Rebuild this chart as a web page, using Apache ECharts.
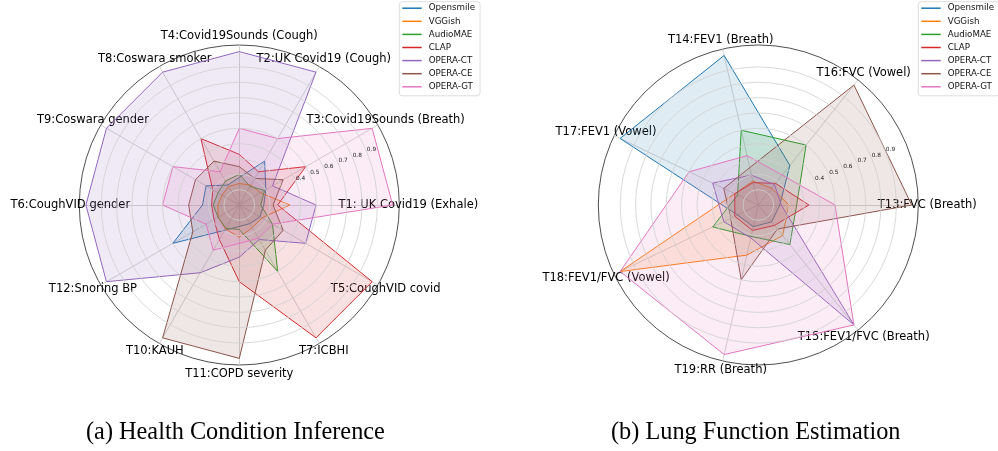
<!DOCTYPE html>
<html><head><meta charset="utf-8">
<script src="https://cdn.jsdelivr.net/npm/echarts@6/dist/echarts.min.js"></script>
<style>html,body{margin:0;padding:0;background:#fff}#c{width:998px;height:451px}</style>
</head><body><div id="c"></div>
<script>
const models = ['Opensmile','VGGish','AudioMAE','CLAP','OPERA-CT','OPERA-CE','OPERA-GT'];
const colors = ['#1f77b4','#ff7f0e','#2ca02c','#d62728','#9467bd','#8c564b','#e377c2'];

// (a) Health condition inference — axis order counter-clockwise from east
const healthTasks = ['T1: UK Covid19 (Exhale)','T3:Covid19Sounds (Breath)','T2:UK Covid19 (Cough)','T4:Covid19Sounds (Cough)','T8:Coswara smoker','T9:Coswara gender','T6:CoughVID gender','T12:Snoring BP','T10:KAUH','T11:COPD severity','T7:ICBHI','T5:CoughVID covid'];
const healthOpensmile = [0.16,0.20,0.33,0.18,0.15,0.25,0.24,0.50,0.19,0.14,0.14,0.155];
const healthVGGish    = [0.33,0.16,0.15,0.14,0.14,0.13,0.14,0.16,0.18,0.21,0.17,0.17];
const healthAudioMAE  = [0.14,0.19,0.14,0.20,0.18,0.16,0.17,0.16,0.175,0.16,0.50,0.25];
const healthCLAP      = [0.25,0.50,0.25,0.33,0.50,0.20,0.18,0.19,0.26,0.50,1.00,1.00];
const healthOperaCT   = [0.50,0.25,1.00,1.00,1.00,1.00,1.00,1.00,0.51,0.34,0.26,0.50];
const healthOperaCE   = [0.22,0.33,0.20,0.25,0.33,0.33,0.33,0.35,1.00,1.00,0.34,0.33];
const healthOperaGT   = [1.00,1.00,0.50,0.50,0.25,0.50,0.50,0.25,0.34,0.25,0.25,0.25];

// (b) Lung function estimation
const lungTasks = ['T13:FVC (Breath)','T16:FVC (Vowel)','T14:FEV1 (Breath)','T17:FEV1 (Vowel)','T18:FEV1/FVC (Vowel)','T19:RR (Breath)','T15:FEV1/FVC (Breath)'];
const lungOpensmile = [0.14,0.33,1.00,1.00,0.15,0.145,0.14];
const lungVGGish    = [0.20,0.14,0.16,0.17,1.00,0.335,0.255];
const lungAudioMAE  = [0.25,0.50,0.50,0.15,0.33,0.21,0.33];
const lungCLAP      = [0.33,0.18,0.15,0.17,0.17,0.17,0.17];
const lungOperaCT   = [0.15,0.17,0.20,0.33,0.25,0.22,1.00];
const lungOperaCE   = [1.00,1.00,0.25,0.25,0.20,0.50,0.20];
const lungOperaGT   = [0.50,0.25,0.33,0.50,1.00,1.00,1.00];

const radialTickLabels = ['0.4','0.5','0.6','0.7','0.8','0.9'];
const captions = ['(a) Health Condition Inference','(b) Lung Function Estimation'];

const healthValues = [healthOpensmile,healthVGGish,healthAudioMAE,healthCLAP,healthOperaCT,healthOperaCE,healthOperaGT];
const lungValues = [lungOpensmile,lungVGGish,lungAudioMAE,lungCLAP,lungOperaCT,lungOperaCE,lungOperaGT];

const R_MAX = 1.043;      // value at the outer (black) circle
const GRID_MAX = 0.9;     // last grid ring
const centers = [[239.3,205],[758.3,205]];
const RADIUS = 160;

function rgba(hex,a){const n=parseInt(hex.slice(1),16);return `rgba(${n>>16&255},${n>>8&255},${n&255},${a})`;}

function radarComp(tasks, idx){
  return {
    center: centers[idx], radius: RADIUS, startAngle: 0, shape: 'circle', splitNumber: 1,
    indicator: tasks.map(t=>({name:t, min:0, max:R_MAX})),
    splitLine:{show:false}, splitArea:{show:false},
    axisLine:{lineStyle:{color:'#c8c8c8', width:0.8}},
    axisNameGap: 9,
    axisName:{color:'#000', fontSize:11.5, fontFamily:'DejaVu Sans', align:'center', verticalAlign:'middle'}
  };
}
function radarSeries(idx, vals){
  return {type:'radar', radarIndex: idx, symbol:'none', z: 3,
    data: models.map((m,i)=>({name:m, value: vals[i],
      lineStyle:{color:colors[i], width:1},
      itemStyle:{color:colors[i]},
      areaStyle:{color: rgba(colors[i],0.2)}}))};
}
function legendComp(left){
  return {data: models, orient:'vertical', left:left, top:1.7, icon:'rect', itemWidth:19.4, itemHeight:1.5, itemGap:0.1,
    padding:[0,5,2.5,3], borderColor:'#d4d4d4', borderWidth:0.8, borderRadius:3, backgroundColor:'rgba(255,255,255,0.8)',
    textStyle:{fontFamily:'DejaVu Sans', fontSize:8.7, lineHeight:13, color:'#111', padding:[0,0,0,2]}};
}

const gridRadius = RADIUS * GRID_MAX / R_MAX;

const chart = echarts.init(document.getElementById('c'), null, {renderer:'canvas'});
chart.setOption({
  animation:false,
  backgroundColor:'#fff',
  title: captions.map((t,i)=>({text:t, left: i===0?86:611, top:421, padding:0,
    textStyle:{fontFamily:'Liberation Serif', fontSize:24.3, fontWeight:'normal', color:'#000'}})),
  legend:[legendComp(399.3), legendComp(918.3)],
  // polars 0,1: grid rings + radial labels; polars 2,3: outer black circle
  polar: [centers[0],centers[1]].map(c=>({center:c, radius:gridRadius}))
    .concat(centers.map(c=>({center:c, radius:RADIUS}))),
  angleAxis: [0,1,2,3].map(i=>({polarIndex:i, type:'value', min:0, max:360, startAngle:22.5,
    axisLine:{show:i>=2, lineStyle:{color:'#222', width:0.8}}, axisTick:{show:false}, axisLabel:{show:false}, splitLine:{show:false}})),
  radiusAxis: [0,1,2,3].map(i=>(i<2 ? {polarIndex:i, type:'value', min:0, max:GRID_MAX, interval:0.1, z:10,
    axisLine:{show:false}, axisTick:{show:false},
    splitLine:{show:true, lineStyle:{color:'#cfcfcf', width:0.8}},
    axisLabel:{show:true, margin:0, rotate:0, align:'left', verticalAlign:'bottom', fontSize:5.8, fontFamily:'DejaVu Sans', color:'#222',
      formatter:(v)=>{const s=(+v).toFixed(1); return radialTickLabels.includes(s)&&Math.abs(v-(+s))<1e-6 ? s : '';}}}
    : {polarIndex:i, type:'value', min:0, max:R_MAX, show:false})),
  radar:[radarComp(healthTasks,0), radarComp(lungTasks,1)],
  series:[radarSeries(0, healthValues), radarSeries(1, lungValues)]
});
</script></body></html>
